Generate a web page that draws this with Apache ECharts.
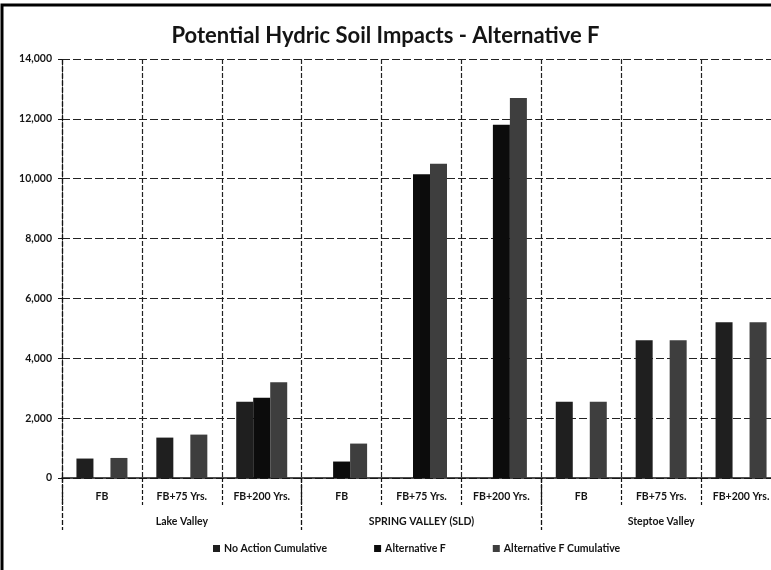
<!DOCTYPE html>
<html>
<head>
<meta charset="utf-8">
<title>Potential Hydric Soil Impacts - Alternative F</title>
<script src="https://cdn.jsdelivr.net/npm/echarts@6/dist/echarts.min.js"></script>
<style>
  html, body { margin: 0; padding: 0; background: #ffffff; }
  #chart { width: 771px; height: 570px; }
</style>
</head>
<body>
<div id="chart"></div>
<script>
// Sub-categories (time horizon) and their valley groups
const periods = ['FB', 'FB+75 Yrs.', 'FB+200 Yrs.', 'FB', 'FB+75 Yrs.', 'FB+200 Yrs.', 'FB', 'FB+75 Yrs.', 'FB+200 Yrs.'];
const valleys = ['Lake Valley', 'SPRING VALLEY (SLD)', 'Steptoe Valley'];

// Acres of hydric soil affected, per sub-category
const noActionCumulative = [650, 1350, 2550, 0, 0, 0, 2550, 4600, 5200];
const alternativeF = [0, 0, 2680, 550, 10150, 11800, 0, 0, 0];
const alternativeFCumulative = [670, 1450, 3200, 1150, 10500, 12700, 2550, 4600, 5200];

const seriesNames = ['No Action Cumulative', 'Alternative F', 'Alternative F Cumulative'];
const seriesColors = ['#1f1f1f', '#0c0c0c', '#3e3e3e'];

// Value axis ticks
const yMin = 0, yMax = 14000, yStep = 2000;

const font = 'Lato, "Open Sans", sans-serif';
const ink = '#141414';

const chart = echarts.init(document.getElementById('chart'), null, { renderer: 'canvas' });

const seriesData = [noActionCumulative, alternativeF, alternativeFCumulative];

chart.setOption({
  backgroundColor: '#ffffff',
  animation: false,
  title: {
    text: 'Potential Hydric Soil Impacts - Alternative F',
    left: 'center',
    top: 20,
    textStyle: { fontFamily: font, fontSize: 22, fontWeight: 'bold', color: ink }
  },
  graphic: [{
    type: 'rect',
    shape: { x: 2, y: 5, width: 800, height: 600 },
    style: { fill: 'none', stroke: '#000', lineWidth: 3 },
    silent: true
  }],
  legend: {
    data: seriesNames,
    left: 208,
    top: 538,
    itemWidth: 7,
    itemHeight: 7,
    itemGap: 47,
    icon: 'rect',
    textStyle: { fontFamily: font, fontSize: 10.5, fontWeight: 'bold', color: ink, padding: [0, 0, 0, -1] }
  },
  // the plot runs a little past the right edge of the page
  grid: { left: 62, width: 719, top: 59, height: 419, containLabel: false, outerBoundsMode: 'none' },
  xAxis: [{
    type: 'category',
    data: periods,
    position: 'bottom',
    axisLine: { show: true, lineStyle: { color: ink, width: 1.5 } },
    axisTick: { show: true, interval: 0, length: 27, lineStyle: { color: ink, width: 1.2, type: [4, 2] } },
    axisLabel: { interval: 0, margin: 13, fontFamily: font, fontSize: 10.5, fontWeight: 'bold', color: ink },
    splitLine: { show: true, interval: 0, lineStyle: { color: '#222', width: 1.2, type: [5, 2] } }
  }, {
    type: 'category',
    data: valleys,
    position: 'bottom',
    axisLine: { show: false },
    axisTick: { show: true, interval: 0, length: 52, lineStyle: { color: ink, width: 1.3, type: [5, 2] } },
    axisLabel: { interval: 0, margin: 38, fontFamily: font, fontSize: 10.5, fontWeight: 'bold', color: ink },
    splitLine: { show: false }
  }],
  yAxis: {
    type: 'value',
    min: yMin,
    max: yMax,
    interval: yStep,
    axisLine: { show: true, lineStyle: { color: ink, width: 1.2, type: [5, 2] } },
    axisTick: { show: true, length: 4, lineStyle: { color: ink } },
    axisLabel: { margin: 10, fontFamily: font, fontSize: 10.5, fontWeight: 'bold', color: ink },
    splitLine: { show: true, lineStyle: { color: '#222', width: 1.2, type: [8, 3] } }
  },
  series: seriesNames.map((name, i) => ({
    name: name,
    type: 'bar',
    xAxisIndex: 0,
    data: seriesData[i],
    barWidth: 17,
    barGap: '0%',
    itemStyle: { color: seriesColors[i] }
  }))
});
</script>
</body>
</html>
